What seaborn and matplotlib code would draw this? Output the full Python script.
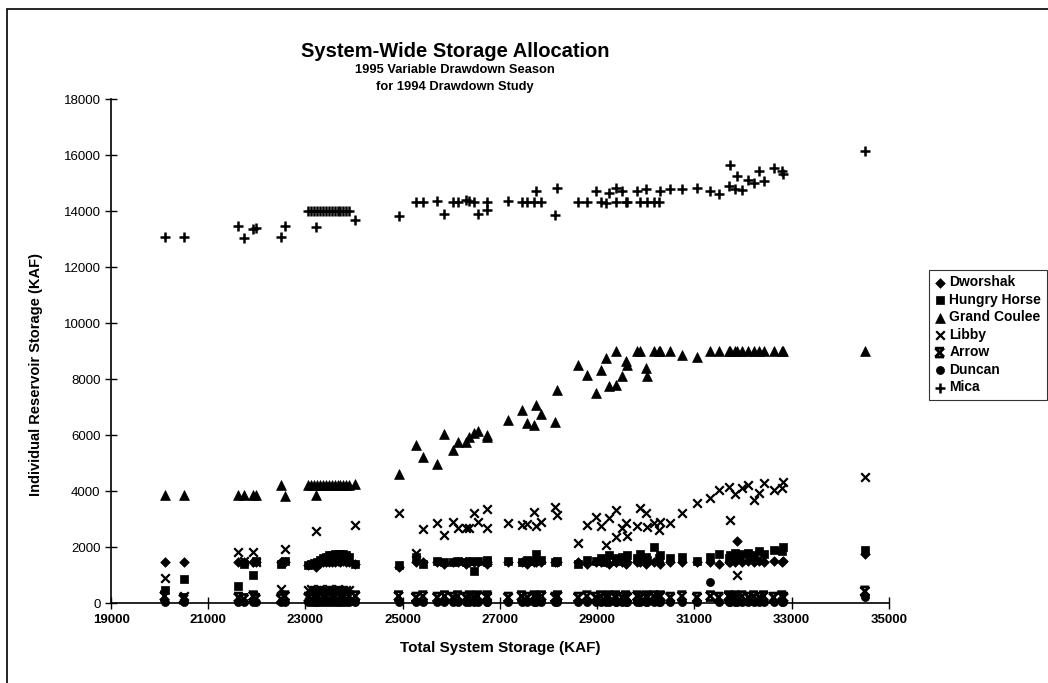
import numpy as np
import pandas as pd
import seaborn as sns
import matplotlib.pyplot as plt
from matplotlib.patches import Rectangle
from matplotlib.path import Path

# ---- data: total system storage per run, and each reservoir (KAF)
total_storage = [
    20100, 20490, 21620, 21730, 21925, 21975, 22495, 22575, 23210,
    23060, 23120, 23180, 23240, 23300, 23360, 23420, 23480, 23540, 23600,
    23660, 23720, 23780, 23840, 23900, 24025, 24915, 25275, 25415, 25710,
    25860, 26030, 26130, 26300, 26370, 26475, 26540, 26735, 26735, 27170,
    27445, 27565, 27705, 27750, 27855, 28135, 28185, 28610, 28790, 28970,
    29070, 29190, 29240, 29380, 29380, 29515, 29585, 29615, 29825, 29890,
    30015, 30030, 30165, 30265, 30300, 30505, 30745, 31055, 31330, 31500,
    31705, 31740, 31840, 31875, 31980, 32115, 32220, 32340, 32425, 32630,
    32800, 32835, 34510,
]
mica = [
    13060, 13060, 13480, 13040, 13360, 13400, 13080, 13480, 13440,
    14000, 14000, 14000, 14000, 14000, 14000, 14000, 14000, 14000, 14000,
    14000, 14000, 14000, 14000, 14000, 13680, 13830, 14330, 14330, 14370,
    13900, 14310, 14310, 14400, 14370, 14340, 13900, 14340, 14050, 14370,
    14340, 14340, 14340, 14720, 14340, 13870, 14820, 14310, 14340, 14720,
    14310, 14290, 14630, 14820, 14310, 14700, 14310, 14310, 14700, 14340,
    14780, 14340, 14340, 14310, 14700, 14770, 14770, 14820, 14700, 14600,
    14880, 15650, 14780, 15240, 14750, 15120, 15000, 15440, 15080, 15550,
    15430, 15320, 16130,
]
grand_coulee = [
    3870, 3870, 3870, 3870, 3870, 3870, 4220, 3830, 3870,
    4200, 4230, 4210, 4220, 4230, 4200, 4220, 4210, 4230, 4220,
    4200, 4230, 4210, 4220, 4230, 4250, 4610, 5630, 5210, 4960,
    6040, 5450, 5770, 5770, 5930, 6070, 6130, 6010, 5930, 6550,
    6900, 6430, 6370, 7080, 6760, 6450, 7620, 8510, 8150, 7500,
    8330, 8770, 7740, 9000, 7800, 8120, 8630, 8510, 9000, 9000,
    8390, 8120, 9000, 9000, 9000, 9000, 8870, 8800, 9000, 9000,
    9000, 9000, 9000, 9000, 9000, 9000, 9000, 9000, 9000, 9000,
    9000, 9000, 9000,
]
libby = [
    890, 250, 1820, 1500, 1820, 1450, 500, 1930, 2560,
    480, 500, 480, 450, 500, 480, 450, 500, 480, 450,
    500, 480, 450, 480, 450, 2800, 3210, 1800, 2640, 2860,
    2440, 2890, 2680, 2680, 2680, 3210, 2890, 3370, 2680, 2860,
    2800, 2830, 3240, 2740, 2910, 3430, 3150, 2140, 2800, 3090,
    2740, 2080, 3040, 3330, 2360, 2680, 2860, 2380, 2740, 3390,
    3210, 2710, 2860, 2620, 2910, 2860, 3210, 3570, 3750, 4050,
    4160, 2980, 3890, 990, 4110, 4220, 3690, 3930, 4290, 4050,
    4110, 4310, 4500,
]
dworshak = [
    1450, 1450, 1450, 1450, 1450, 1450, 1450, 1450, 1300,
    1350, 1380, 1400, 1400, 1420, 1450, 1450, 1450, 1450, 1450,
    1500, 1450, 1500, 1450, 1450, 1400, 1300, 1450, 1450, 1450,
    1400, 1450, 1450, 1400, 1450, 1450, 1450, 1450, 1400, 1450,
    1450, 1400, 1450, 1450, 1450, 1450, 1450, 1450, 1400, 1450,
    1450, 1450, 1400, 1450, 1450, 1450, 1400, 1450, 1450, 1450,
    1400, 1450, 1450, 1450, 1400, 1450, 1450, 1450, 1450, 1400,
    1450, 1450, 1450, 2200, 1450, 1500, 1450, 1500, 1450, 1500,
    1450, 1500, 1750,
]
hungry_horse = [
    480, 870, 620, 1400, 1010, 1500, 1400, 1500, 1400,
    1350, 1380, 1420, 1480, 1550, 1600, 1650, 1700, 1720, 1750,
    1750, 1760, 1750, 1700, 1650, 1400, 1370, 1650, 1400, 1500,
    1450, 1480, 1500, 1450, 1500, 1130, 1500, 1550, 1450, 1500,
    1450, 1550, 1500, 1750, 1550, 1450, 1500, 1400, 1550, 1500,
    1600, 1450, 1700, 1600, 1500, 1650, 1550, 1700, 1600, 1750,
    1650, 1550, 2000, 1600, 1700, 1600, 1650, 1500, 1650, 1750,
    1600, 1700, 1800, 1650, 1750, 1800, 1700, 1850, 1750, 1900,
    1850, 2000, 1900,
]
arrow = [
    250, 150, 200, 150, 250, 150, 150, 250, 200,
    200, 150, 250, 200, 150, 250, 200, 150, 250, 200,
    150, 250, 200, 150, 250, 250, 250, 200, 250, 200,
    250, 200, 250, 200, 250, 200, 250, 200, 250, 200,
    250, 200, 250, 200, 250, 200, 250, 200, 250, 200,
    250, 200, 250, 200, 250, 200, 250, 200, 250, 200,
    250, 200, 250, 200, 250, 200, 250, 200, 250, 200,
    250, 200, 250, 200, 250, 200, 250, 200, 250, 200,
    250, 200, 420,
]
duncan = [
    40, 40, 40, 40, 40, 40, 40, 40, 30,
    30, 40, 30, 40, 30, 40, 30, 40, 30, 40,
    30, 40, 30, 40, 30, 40, 40, 40, 40, 40,
    40, 40, 40, 40, 40, 40, 40, 40, 40, 40,
    40, 40, 40, 40, 40, 40, 40, 40, 40, 40,
    40, 40, 40, 40, 40, 40, 40, 40, 40, 40,
    40, 40, 40, 40, 40, 40, 40, 40, 770, 40,
    40, 40, 40, 40, 40, 40, 40, 40, 40, 40,
    40, 40, 200,
]

x_ticks = list(range(19000, 35001, 2000))
y_ticks = list(range(0, 18001, 2000))

df = pd.DataFrame({
    "Total": total_storage,
    "Dworshak": dworshak,
    "Hungry Horse": hungry_horse,
    "Grand Coulee": grand_coulee,
    "Libby": libby,
    "Arrow": arrow,
    "Duncan": duncan,
    "Mica": mica,
})

# Excel-style "x with bars" marker for Arrow
arrow_marker = Path(
    [(-1, -1), (1, 1), (-1, 1), (1, -1), (-1, 1), (1, 1), (-1, -1), (1, -1)],
    [Path.MOVETO, Path.LINETO] * 4,
)

styles = {
    "Dworshak": dict(marker="D", s=24, color="black", edgecolor="black", linewidth=0.5),
    "Hungry Horse": dict(marker="s", s=28, color="black", edgecolor="black", linewidth=0.5),
    "Grand Coulee": dict(marker="^", s=50, color="black", edgecolor="black", linewidth=0.5),
    "Libby": dict(marker="x", s=38, color="black", linewidth=1.6),
    "Duncan": dict(marker="o", s=34, color="black", edgecolor="black", linewidth=0.5),
    "Arrow": dict(marker=arrow_marker, s=40, color="black", facecolor="none",
                  edgecolor="black", linewidth=2.0),
    "Mica": dict(marker="+", s=60, color="black", linewidth=1.8),
}
legend_order = ["Dworshak", "Hungry Horse", "Grand Coulee", "Libby", "Arrow", "Duncan", "Mica"]

sns.set_style("ticks")
plt.rcParams["font.family"] = ["Liberation Sans", "DejaVu Sans"]
plt.rcParams["text.color"] = "black"
plt.rcParams["axes.labelcolor"] = "black"

fig = plt.figure(figsize=(10.48, 6.83), dpi=100)
ax = fig.add_axes([0.106, 0.117, 0.742, 0.738])

for name, kw in styles.items():
    sns.scatterplot(data=df, x="Total", y=name, ax=ax, label=name, clip_on=False, **kw)

ax.set_xlim(19000, 35000)
ax.set_ylim(0, 18000)
ax.set_xticks(x_ticks)
ax.set_yticks(y_ticks)
ax.tick_params(direction="inout", length=8, width=1, colors="black", labelsize=9.5)
for lab in ax.get_xticklabels():
    lab.set_fontweight("bold")
sns.despine(ax=ax)
for sp in ["left", "bottom"]:
    ax.spines[sp].set_linewidth(1.2)
    ax.spines[sp].set_color("black")

ax.set_xlabel("Total System Storage (KAF)", fontsize=11, fontweight="bold", labelpad=11)
ax.set_ylabel("Individual Reservoir Storage (KAF)", fontsize=10.5, fontweight="bold")
ax.yaxis.set_label_coords(-0.088, 0.453)

fig.text(0.434, 0.925, "System-Wide Storage Allocation", ha="center", va="center",
         fontsize=14.5, fontweight="bold")
fig.text(0.434, 0.897, "1995 Variable Drawdown Season", ha="center", va="center",
         fontsize=9.3, fontweight="bold")
fig.text(0.434, 0.872, "for 1994 Drawdown Study", ha="center", va="center",
         fontsize=9.3, fontweight="bold")

handles, labels = ax.get_legend_handles_labels()
lookup = dict(zip(labels, handles))
leg = ax.legend([lookup[n] for n in legend_order], legend_order,
                loc="upper left", bbox_to_anchor=(0.886, 0.605), bbox_transform=fig.transFigure,
                frameon=True, fancybox=False, edgecolor="black", fontsize=10,
                handlelength=0.8, handletextpad=0.3, labelspacing=0.25, borderpad=0.4,
                borderaxespad=0)
leg.get_frame().set_linewidth(0.8)
for t in leg.get_texts():
    t.set_fontweight("bold")

# outer chart border
fig.patches.append(Rectangle((0.007, -0.02), 1.1, 1.007, transform=fig.transFigure,
                             fill=False, edgecolor="black", linewidth=1.2))

fig.savefig("out.png", dpi=100)
